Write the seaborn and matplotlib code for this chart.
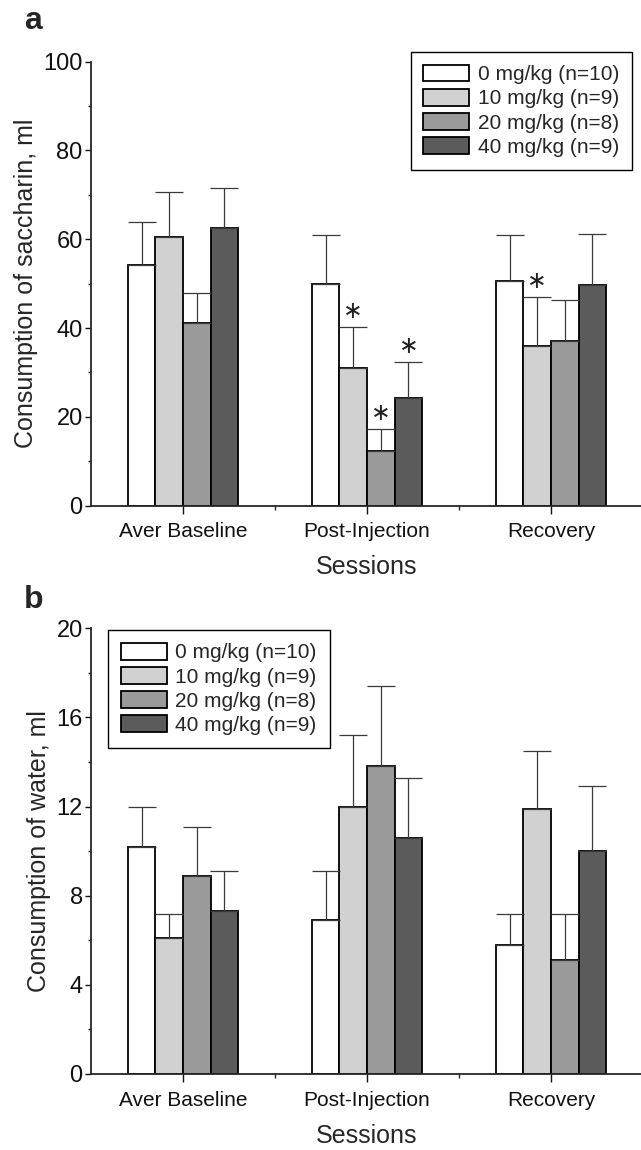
import numpy as np
import pandas as pd
import matplotlib
matplotlib.use("Agg")
import matplotlib.pyplot as plt
import seaborn as sns

sessions = ["Aver Baseline", "Post-Injection", "Recovery"]
doses = ["0 mg/kg (n=10)", "10 mg/kg (n=9)", "20 mg/kg (n=8)", "40 mg/kg (n=9)"]
colors = ["#ffffff", "#d1d1d1", "#9a9a9a", "#5b5b5b"]

# Panel a: saccharin (rows = dose, cols = session)
sacc_mean = [[54.2, 50.0, 50.7],
             [60.4, 31.1, 36.0],
             [41.2, 12.3, 37.1],
             [62.6, 24.3, 49.8]]
sacc_top = [[63.8, 61.0, 61.0],
            [70.7, 40.3, 46.9],
            [47.8, 17.2, 46.3],
            [71.5, 32.4, 61.1]]
sacc_sig = [[False, False, False],
            [False, True, True],
            [False, True, False],
            [False, True, False]]

# Panel b: water
water_mean = [[10.2, 6.9, 5.8],
              [6.1, 12.0, 11.9],
              [8.9, 13.8, 5.1],
              [7.3, 10.6, 10.0]]
water_top = [[12.0, 9.1, 7.2],
             [7.2, 15.2, 14.5],
             [11.1, 17.4, 7.2],
             [9.1, 13.3, 12.9]]

sns.set_style("ticks")
plt.rcParams["font.family"] = ["Liberation Sans", "DejaVu Sans"]

fig = plt.figure(figsize=(6.41, 11.5), dpi=100)
ax_a = fig.add_axes([0.142, 0.5603, 0.861, 0.3861])
ax_b = fig.add_axes([0.142, 0.0661, 0.861, 0.3876])


def make_df(mean, top):
    rows = []
    for i, d in enumerate(doses):
        for j, s in enumerate(sessions):
            rows.append({"session": s, "dose": d, "value": mean[i][j],
                         "top": top[i][j]})
    return pd.DataFrame(rows)


def draw(ax, mean, top, ylim, major, minor, ylabel, legend_anchor, legend_loc, sig=None):
    df = make_df(mean, top)
    sns.barplot(data=df, x="session", y="value", hue="dose", order=sessions,
                hue_order=doses, palette=colors, edgecolor="black",
                linewidth=1.3, width=0.6, gap=0, errorbar=None, ax=ax,
                saturation=1)
    bar_conts = list(ax.containers)
    for i, cont in enumerate(bar_conts):
        for j, bar in enumerate(cont.patches):
            xc = bar.get_x() + bar.get_width() / 2
            h = mean[i][j]
            t = top[i][j]
            ax.errorbar([xc], [h], yerr=[[0], [t - h]], fmt="none",
                        ecolor="#3a3a3a", elinewidth=0.9, capsize=10,
                        capthick=0.9, zorder=1)
            if sig is not None and sig[i][j]:
                ax.annotate("\u2217", (xc, t), xytext=(0, 3),
                            textcoords="offset points", ha="center",
                            va="bottom", fontsize=17, color="#222222",
                            family=["DejaVu Sans"])
    ax.set_xlim(-0.5, 2.5)
    ax.set_ylim(*ylim)
    ax.set_yticks(major)
    ax.set_yticks(minor, minor=True)
    ax.set_xticks([0.5, 1.5, 2.5], minor=True)
    sns.despine(ax=ax)
    for sp in ["left", "bottom"]:
        ax.spines[sp].set_linewidth(1.3)
    ax.tick_params(axis="both", which="major", width=1.0, colors="#111111")
    ax.tick_params(axis="y", which="major", length=4, pad=2, labelsize=17)
    ax.tick_params(axis="y", which="minor", length=2.5, width=1.0)
    ax.tick_params(axis="x", which="major", length=6, pad=6, labelsize=15)
    ax.tick_params(axis="x", which="minor", length=3, width=1.0)
    ax.set_xlabel("Sessions", fontsize=18, labelpad=10)
    ax.set_ylabel(ylabel, fontsize=18, labelpad=4)
    leg = ax.legend(loc=legend_loc, bbox_to_anchor=legend_anchor,
                    borderaxespad=0, fontsize=15, frameon=True,
                    fancybox=False, edgecolor="black", framealpha=1,
                    handlelength=2.2, handleheight=0.85, handletextpad=0.4,
                    labelspacing=0.22, borderpad=0.62, title=None)
    leg.get_frame().set_linewidth(1.0)


draw(ax_a, sacc_mean, sacc_top, (0, 100), np.arange(0, 101, 20),
     np.arange(10, 100, 20), "Consumption of saccharin, ml",
     (0.980, 1.022), "upper right", sig=sacc_sig)
draw(ax_b, water_mean, water_top, (0, 20), np.arange(0, 21, 4),
     np.arange(2, 20, 4), "Consumption of water, ml",
     (0.031, 0.996), "upper left")

fig.text(24 / 641, 1 - 29 / 1150, "a", fontsize=23, fontweight="bold",
         va="baseline", ha="left")
fig.text(24 / 641, 1 - 608 / 1150, "b", fontsize=23, fontweight="bold",
         va="baseline", ha="left")

fig.savefig("out.png", dpi=100)
